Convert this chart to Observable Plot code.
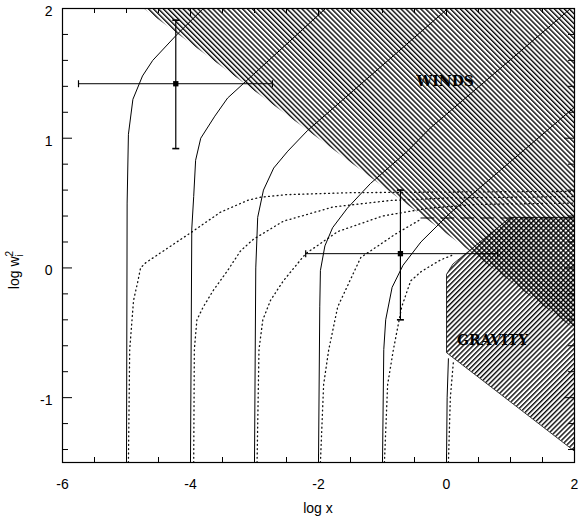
<!DOCTYPE html>
<html><head><meta charset="utf-8">
<script src="https://cdn.jsdelivr.net/npm/d3@7"></script>
<script src="https://cdn.jsdelivr.net/npm/@observablehq/plot@0.6"></script>
<style>body{margin:0;background:#fff;} svg{display:block}</style>
</head><body><div id="chart"></div>
<script>
// ---- data ----
const xDomain = [-6, 2];
const yDomain = [-1.5, 2];
const xLabels = [-6, -4, -2, 0, 2];
const xMajorTicks = [-4, -2, 0];
const xMinorTicks = [-5.5, -5, -4.5, -3.5, -3, -2.5, -1.5, -1, -0.5, 0.5, 1, 1.5];
const yLabels = [-1, 0, 1, 2];
const yMajorTicks = [-1, 0, 1];
const yMinorTicks = [-1.4, -1.2, -0.8, -0.6, -0.4, -0.2, 0.2, 0.4, 0.6, 0.8, 1.2, 1.4, 1.6, 1.8];

// shaded regions (log x, log w_i^2)
const windsRegion = [[-4.73, 2], [2, 2], [2, -0.47]];
const gravityRegion = [[0, -0.65], [0, -0.05], [0.1, 0.03], [1.0, 0.39], [2, 0.39], [2, -1.41]];
const dashedLine = [[-0.4, 0.385], [2, 0.385]];

// solid curves
const solid1 = [[-5, -1.5], [-4.99, 0.5], [-4.97, 1.03], [-4.9, 1.3], [-4.75, 1.48], [-4.59, 1.6], [-4.23, 1.79], [-3.8, 2.0]];
const solid2 = [[-4, -1.5], [-3.98, 0.3], [-3.95, 0.55], [-3.92, 0.83], [-3.84, 1.0], [-3.62, 1.17], [-3.42, 1.31], [-1.89, 2.0]];
const solid3 = [[-3, -1.5], [-2.98, 0], [-2.95, 0.39], [-2.86, 0.6], [-2.7, 0.77], [-2.48, 0.9], [-2.17, 1.06], [0.02, 2.0]];
const solid4 = [[-2, -1.5], [-1.98, -0.3], [-1.97, -0.02], [-1.9, 0.17], [-1.78, 0.31], [-1.55, 0.46], [-1.19, 0.65], [-0.61, 0.9], [-0.25, 1.08], [1.94, 2.0]];
const solid5 = [[-1, -1.5], [-0.98, -0.63], [-0.95, -0.4], [-0.85, -0.15], [-0.68, 0.02], [-0.4, 0.2], [0.05, 0.42], [2, 1.24]];
const solid6 = [[0, -1.5], [0.01, -1.0], [0.03, -0.7]];

// dotted curves
const dotted1 = [[-4.97, -1.5], [-4.95, -0.63], [-4.89, -0.25], [-4.83, -0.12], [-4.78, 0.0], [-4.7, 0.04], [-4, 0.27], [-3.53, 0.43], [-3.11, 0.52], [-2.91, 0.545], [-2.5, 0.565], [-1.5, 0.58], [0, 0.585], [2, 0.59]];
const dotted2 = [[-3.95, -1.5], [-3.94, -0.63], [-3.9, -0.4], [-3.8, -0.3], [-3.64, -0.17], [-3.42, -0.02], [-3.22, 0.13], [-3.02, 0.22], [-2.55, 0.36], [-1.77, 0.47], [-0.88, 0.52], [0.06, 0.54], [2, 0.55]];
const dotted3 = [[-2.96, -1.5], [-2.93, -0.63], [-2.87, -0.4], [-2.75, -0.25], [-2.55, -0.1], [-2.2, 0.11], [-1.7, 0.28], [-1.0, 0.4], [-0.3, 0.46], [0.5, 0.49], [2, 0.5]];
const dotted4 = [[-1.97, -1.5], [-1.92, -0.9], [-1.84, -0.63], [-1.7, -0.3], [-1.34, 0.08], [-0.8, 0.26], [-0.4, 0.375]];
const dotted5 = [[-0.97, -1.5], [-0.92, -0.9], [-0.83, -0.63], [-0.7, -0.3], [-0.56, -0.1], [-0.4, -0.03], [-0.1, 0.06], [0.1, 0.1]];
const dotted6 = [[0.03, -1.5], [0.06, -1.0], [0.11, -0.71]];

// data points with error bars
const ptX = [-4.23, -0.72];
const ptY = [1.42, 0.11];
const ptXlo = [-5.75, -2.2];
const ptXhi = [-2.72, 0.8];
const ptYlo = [0.92, -0.4];
const ptYhi = [1.91, 0.6];

// region labels
const regionNames = ["WINDS", "GRAVITY"];
const regionX = [-0.02, 0.72];
const regionY = [1.44, -0.56];

// ---- build tables ----
const toRows = (curves) => curves.flatMap((c, i) => c.map(([x, y]) => ({x, y, id: i})));
const solidRows = toRows([solid1, solid2, solid3, solid4, solid5, solid6]);
const dottedRows = toRows([dotted1, dotted2, dotted3, dotted4, dotted5, dotted6]);
const windsRows = toRows([windsRegion]);
const gravityRows = toRows([gravityRegion]);
const dashRows = toRows([dashedLine]);
const points = ptX.map((x, i) => ({x, y: ptY[i], xlo: ptXlo[i], xhi: ptXhi[i], ylo: ptYlo[i], yhi: ptYhi[i]}));
const labels = regionNames.map((t, i) => ({t, x: regionX[i], y: regionY[i]}));

const W = 580, H = 521;
const mL = 62, mR = 6, mT = 8, mB = 59;
const innerW = W - mL - mR, innerH = H - mT - mB;

const vBar = {draw(ctx, size) { const r = 3.5; ctx.moveTo(0, -r); ctx.lineTo(0, r); }};
const hBar = {draw(ctx, size) { const r = 3.5; ctx.moveTo(-r, 0); ctx.lineTo(r, 0); }};

const patterns = () => {
  const defs = d3.create("svg:defs");
  const mk = (id, angle) => {
    const p = defs.append("pattern").attr("id", id)
      .attr("patternUnits", "userSpaceOnUse")
      .attr("width", 3.5).attr("height", 3.5)
      .attr("patternTransform", `rotate(${angle})`);
    p.append("line").attr("x1", 0.7).attr("y1", -1).attr("x2", 0.7).attr("y2", 5)
      .attr("stroke", "black").attr("stroke-width", 1.35);
  };
  mk("windsHatch", -45);
  mk("gravityHatch", 45);
  return defs.node();
};

const font = "Liberation Sans, Arial, Helvetica, sans-serif";

const chart = Plot.plot({
  width: W, height: H,
  marginLeft: mL, marginRight: mR, marginTop: mT, marginBottom: mB,
  x: {domain: xDomain},
  y: {domain: yDomain},
  style: {fontFamily: font, background: "white"},
  marks: [
    patterns,
    Plot.line(windsRows, {x: "x", y: "y", z: "id", curve: "linear-closed", fill: "url(#windsHatch)", stroke: "none"}),
    Plot.line(gravityRows, {x: "x", y: "y", z: "id", curve: "linear-closed", fill: "url(#gravityHatch)", stroke: "black", strokeWidth: 0.8}),
    Plot.line(dashRows, {x: "x", y: "y", z: "id", stroke: "black", strokeWidth: 1, strokeDasharray: "13,7"}),
    Plot.line(dottedRows, {x: "x", y: "y", z: "id", stroke: "#111", strokeWidth: 1.3, strokeDasharray: "0.9,3.4", clip: true}),
    Plot.line(solidRows, {x: "x", y: "y", z: "id", stroke: "black", strokeWidth: 1, clip: true}),
    // error bars
    Plot.ruleY(points, {y: "y", x1: "xlo", x2: "xhi", stroke: "black", strokeWidth: 1}),
    Plot.ruleX(points, {x: "x", y1: "ylo", y2: "yhi", stroke: "black", strokeWidth: 1.2}),
    Plot.dot(points, {x: "xlo", y: "y", symbol: vBar, stroke: "black", strokeWidth: 1.2, fill: "none"}),
    Plot.dot(points, {x: "xhi", y: "y", symbol: vBar, stroke: "black", strokeWidth: 1.2, fill: "none"}),
    Plot.dot(points, {x: "x", y: "ylo", symbol: hBar, stroke: "black", strokeWidth: 1.6, fill: "none"}),
    Plot.dot(points, {x: "x", y: "yhi", symbol: hBar, stroke: "black", strokeWidth: 1.6, fill: "none"}),
    Plot.dot(points, {x: "x", y: "y", symbol: "square", r: 3, fill: "black", stroke: "none"}),
    // region names
    Plot.text(labels, {x: "x", y: "y", text: "t", fontFamily: "DejaVu Serif, serif", fontWeight: "bold", fontSize: 14, fill: "black", stroke: "white", strokeWidth: 0.1}),
    // inward ticks
    Plot.ruleX(xMinorTicks, {x: d => d, insetTop: innerH - 5, stroke: "black"}),
    Plot.ruleX(xMinorTicks, {x: d => d, insetBottom: innerH - 5, stroke: "black"}),
    Plot.ruleX(xMajorTicks, {x: d => d, insetTop: innerH - 8, stroke: "black"}),
    Plot.ruleX(xMajorTicks, {x: d => d, insetBottom: innerH - 8, stroke: "black"}),
    Plot.ruleY(yMinorTicks, {y: d => d, insetRight: innerW - 6, stroke: "black"}),
    Plot.ruleY(yMinorTicks, {y: d => d, insetLeft: innerW - 6, stroke: "black"}),
    Plot.ruleY(yMajorTicks, {y: d => d, insetRight: innerW - 10, stroke: "black"}),
    Plot.ruleY(yMajorTicks, {y: d => d, insetLeft: innerW - 10, stroke: "black"}),
    Plot.frame({stroke: "black", strokeWidth: 1.2}),
    Plot.axisX({ticks: xLabels, tickSize: 0, tickPadding: 17, fontSize: 14, label: null, tickFormat: d => String(d)}),
    Plot.axisY({ticks: yLabels, tickSize: 0, tickPadding: 10, fontSize: 14, label: null, dy: 3, tickFormat: d => String(d)})
  ]
});

const svg = d3.select(chart);
svg.append("text")
  .attr("x", mL + (-2 - xDomain[0]) / (xDomain[1] - xDomain[0]) * innerW)
  .attr("y", 513)
  .attr("text-anchor", "middle")
  .attr("font-family", font).attr("font-size", 14).attr("fill", "black")
  .text("log x");
const yt = svg.append("text")
  .attr("transform", "translate(19,270) rotate(-90)")
  .attr("text-anchor", "middle")
  .attr("font-family", font).attr("font-size", 14).attr("fill", "black");
yt.append("tspan").text("log w");
yt.append("tspan").attr("font-size", 10).attr("dy", -6).text("2");
yt.append("tspan").attr("font-size", 10).attr("dx", -5.6).attr("dy", 10).text("i");

document.getElementById("chart").appendChild(chart);
</script></body></html>
